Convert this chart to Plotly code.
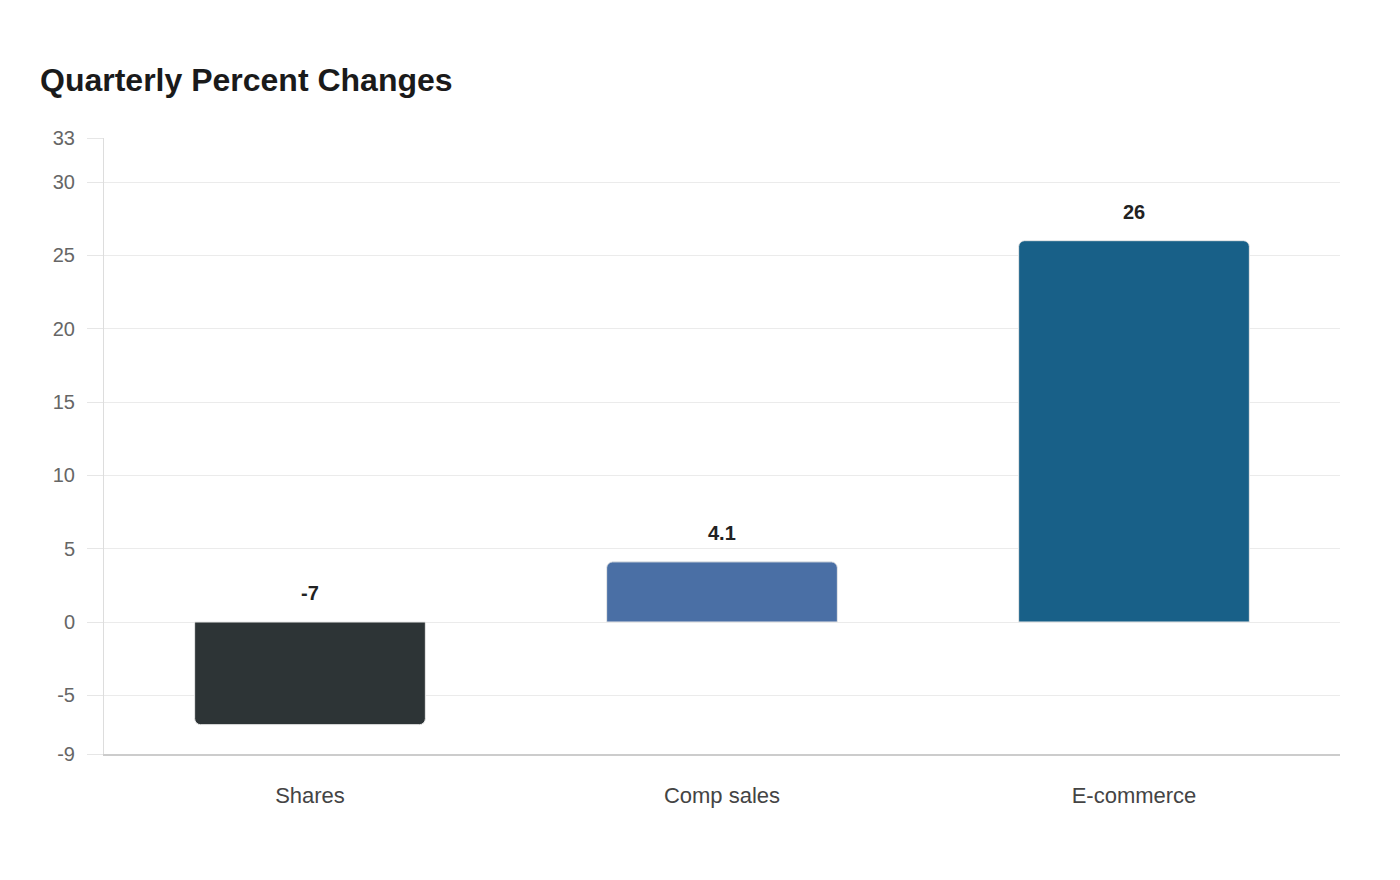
import plotly.graph_objects as go

categories = ["Shares", "Comp sales", "E-commerce"]
values = [-7, 4.1, 26]
labels = ["-7", "4.1", "26"]
colors = ["#2d3436", "#4a6fa5", "#186088"]
y_ticks = [-9, -5, 0, 5, 10, 15, 20, 25, 30, 33]

fig = go.Figure()
fig.add_trace(go.Bar(
    x=categories, y=values, width=0.56,
    marker=dict(color=colors, cornerradius=6, line=dict(color="#e8e8e8", width=1)),
    hoverinfo="skip",
))

for c, v, t in zip(categories, values, labels):
    fig.add_annotation(x=c, y=max(v, 0), text=f"<b>{t}</b>", showarrow=False,
                       yanchor="bottom", yshift=16,
                       font=dict(family="Liberation Sans, Arial, sans-serif", size=20, color="#222222"))

fig.update_layout(
    width=1400, height=880,
    margin=dict(l=104, r=60, t=138, b=126),
    paper_bgcolor="white", plot_bgcolor="white",
    showlegend=False,
    title=dict(text="<b>Quarterly Percent Changes</b>", x=40/1400, xref="container", xanchor="left",
               y=1-80/880, yref="container", yanchor="middle",
               font=dict(family="Liberation Sans, Arial, sans-serif", size=32, color="#1a1a1a")),
    font=dict(family="Liberation Sans, Arial, sans-serif"),
)
fig.update_yaxes(range=[-9, 33], tickvals=y_ticks, ticktext=[str(v) for v in y_ticks],
                 showgrid=True, gridcolor="#ebebeb", gridwidth=1,
                 zeroline=False, showline=True, linecolor="#dddddd", linewidth=1,
                 ticks="outside", ticklen=16, tickcolor="#e6e6e6",
                 ticklabelstandoff=8,
                 tickfont=dict(size=20, color="#666666"))
fig.update_xaxes(showgrid=False, showline=True, linecolor="#cccccc", linewidth=2,
                 ticks="outside", ticklen=0, ticklabelstandoff=21,
                 tickfont=dict(size=22, color="#444444"))

fig.write_html("out.html")
